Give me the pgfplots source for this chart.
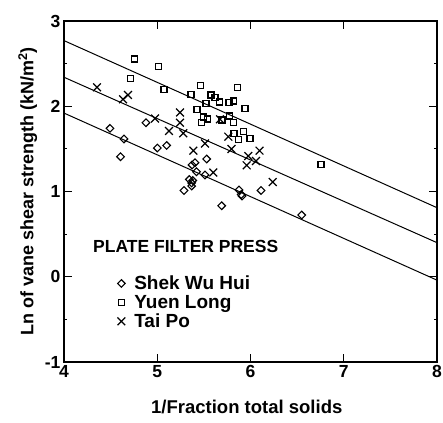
\documentclass[border=0pt]{standalone}
\usepackage{fontspec}
\setmainfont{Liberation Sans}
\usepackage{pgfplots}
\usepackage{pgfplotstable}
\pgfplotsset{compat=1.18}
\pgfplotstableread{
x y
4.493 1.741
4.643 1.616
4.606 1.408
5.001 1.510
5.101 1.540
5.530 1.381
5.405 1.338
5.373 1.311
5.421 1.232
5.512 1.194
5.344 1.141
5.380 1.129
5.369 1.100
5.369 1.064
5.287 1.012
5.877 1.018
5.901 0.965
5.909 0.947
6.113 1.012
5.691 0.833
6.549 0.724
4.879 1.807
}\shek
\pgfplotstableread{
x y
4.756 2.554
5.013 2.466
4.715 2.328
5.072 2.196
5.466 2.246
5.362 2.138
5.576 2.132
5.619 2.105
5.665 2.050
5.523 2.035
5.769 2.046
5.816 2.062
5.861 2.222
5.941 1.976
5.426 1.964
5.496 1.874
5.537 1.850
5.477 1.807
5.773 1.886
5.816 1.807
5.823 1.683
5.923 1.706
5.873 1.612
5.995 1.624
6.756 1.319
5.694 1.839
}\yuen
\pgfplotstableread{
x y
4.354 2.222
4.633 2.082
4.686 2.132
4.976 1.856
5.126 1.710
5.244 1.927
5.244 1.807
5.279 1.683
5.673 1.847
5.512 1.563
5.387 1.479
5.601 1.223
5.762 1.643
5.796 1.499
5.976 1.416
5.959 1.307
6.059 1.358
6.097 1.479
6.238 1.111
}\taipo
\begin{document}
\begin{tikzpicture}
\begin{axis}[
  scale only axis, width=373pt, height=341pt,
  xmin=4, xmax=8, ymin=-1, ymax=3,
  xtick={4,5,6,7,8}, ytick={-1,0,1,2,3},
  minor ytick={-0.5,0.5,1.5,2.5},
  major tick length=8pt, minor tick length=3pt,
  tick style={line width=1pt, black},
  axis line style={line width=1.3pt},
  tick label style={font=\fontsize{17.5}{20}\selectfont\bfseries},
  /pgf/number format/assume math mode=true,
  xlabel={1/Fraction total solids},
  ylabel={Ln of vane shear strength (kN/m\textsuperscript{2})},
  xlabel style={font=\fontsize{18.5}{21}\selectfont\bfseries, at={(axis description cs:0.49,-0.132)}, anchor=center},
  ylabel style={font=\fontsize{18}{21}\selectfont\bfseries, at={(axis description cs:-0.097,0.5)}, anchor=center},
  legend style={draw=none, fill=none, at={(axis cs:4.55,0.06)}, anchor=north west,
    font=\fontsize{19}{21}\selectfont\bfseries, row sep=0pt, column sep=7pt, inner sep=2pt},
  legend cell align=left,
  clip=false,
]
\addplot[only marks, mark=square, mark size=2.7pt, mark options={rotate=45, line width=1.1pt, fill=white}] table {\shek};
\addlegendentry{Shek Wu Hui}
\addplot[only marks, mark=square, mark size=3pt, mark options={line width=1.1pt, fill=white}] table {\yuen};
\addlegendentry{Yuen Long}
\addplot[only marks, mark=x, mark size=5.5pt, mark options={line width=1.2pt}] table {\taipo};
\addlegendentry{Tai Po}
\addplot[black, line width=1pt, forget plot] coordinates {(4,2.77) (8,0.81)};
\addplot[black, line width=1pt, forget plot] coordinates {(4,2.34) (8,0.40)};
\addplot[black, line width=1pt, forget plot] coordinates {(4,1.92) (8,-0.04)};
\node[anchor=west, inner sep=0pt, font=\fontsize{17.5}{20}\selectfont\bfseries] at (axis cs:4.311,0.35) {PLATE FILTER PRESS};
\end{axis}
\pgfresetboundingbox
\path ([shift={(-64pt,-60pt)}]current axis.south west) rectangle ([shift={(6pt,21pt)}]current axis.north east);
\end{tikzpicture}
\end{document}
